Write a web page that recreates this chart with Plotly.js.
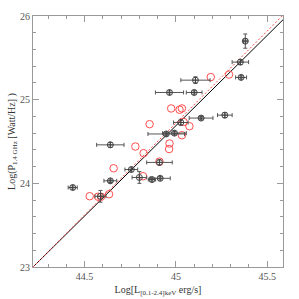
<!DOCTYPE html>
<html><head><meta charset="utf-8">
<script src="https://cdn.plot.ly/plotly-3.0.1.min.js"></script>
<style>html,body{margin:0;padding:0;background:#fff}</style>
</head><body><div id="c" style="width:299px;height:299px"></div>
<script>
// Sources with X-ray / radio error bars
const errX  = [44.435,44.587,44.641,44.641,44.756,44.800,44.869,44.914,44.910,44.947,44.992,45.027,45.138,44.965,45.100,45.107,45.268,45.357,45.353,45.380];
const errY  = [23.95, 23.845,24.03, 24.46, 24.165,24.07, 24.045,24.06, 24.25, 24.59, 24.60, 24.727,24.78, 25.086,25.086,25.233,24.815,25.266,25.449,25.70];
const errDX = [0.025, 0.03,  0.035, 0.075, 0.035, 0.04,  0.02,  0.055, 0.07,  0.10,  0.065, 0.04,  0.065, 0.077, 0.043, 0.08,  0.04,  0.03,  0.045, 0.01];
const errDY = [0.02,  0.07,  0.02,  0.03,  0.02,  0.07,  0.02,  0.02,  0.03,  0.02,  0.02,  0.03,  0.02,  0.02,  0.02,  0.04,  0.03,  0.02,  0.03,  0.085];
// Sources without error bars (red open circles)
const redX = [44.528,44.574,44.590,44.634,44.659,44.778,44.823,44.820,44.856,44.910,44.963,44.965,44.974,45.020,45.033,45.033,45.042,45.074,45.191,45.291];
const redY = [23.846,23.84, 23.84, 23.87, 24.18, 24.44, 24.36, 24.085,24.707,24.26, 24.41, 24.476,24.895,24.88, 24.895,24.575,24.734,24.683,25.27, 25.30];
// Fitted relations
const fitX = [44.2175, 45.5865];
const fitBlackY = [23.0, 25.955];
const fitRedY = [23.0, 26.01];
const xTicks = [44.5, 45, 45.5];
const xTickText = ["44.5", "45", "45.5"];
const yTicks = [23, 24, 25, 26];
const yTickText = ["23", "24", "25", "26"];

const serif = "Liberation Serif, DejaVu Serif, serif";
const traces = [
  {x: fitX, y: fitBlackY, mode: 'lines', line: {color: '#000', width: 1}, hoverinfo: 'skip'},
  {x: fitX, y: fitRedY, mode: 'lines', line: {color: '#ff4444', width: 1, dash: '2px,2px'}, hoverinfo: 'skip'},
  {x: redX, y: redY, mode: 'markers', marker: {symbol: 'circle-open', size: 7.5, color: '#ff4d4d', line: {width: 1}}},
  {x: errX, y: errY, mode: 'markers',
   marker: {symbol: 'circle-cross-open', size: 6, color: '#444', line: {width: 1}},
   error_x: {type: 'data', array: errDX, visible: true, color: '#555', thickness: 1, width: 2},
   error_y: {type: 'data', array: errDY, visible: true, color: '#555', thickness: 1, width: 2}}
];
const axBase = {
  showgrid: false, zeroline: false, showline: true, linecolor: '#999', linewidth: 1,
  mirror: 'allticks', ticks: 'inside', ticklen: 6, tickcolor: '#999', tickwidth: 1,
  tickfont: {family: serif, size: 10, color: '#555'}
};
const layout = {
  width: 299, height: 299, showlegend: false,
  margin: {l: 33, r: 16, t: 16, b: 32},
  paper_bgcolor: '#fff', plot_bgcolor: '#fff',
  xaxis: Object.assign({}, axBase, {
    range: [44.2175, 45.5865], tickvals: xTicks, ticktext: xTickText,
    minor: {ticks: 'inside', dtick: 0.1, tick0: 44.5, ticklen: 3, tickcolor: '#999'},
    title: {text: 'Log[L<sub>[0.1-2.4]keV</sub> erg/s]', font: {family: serif, size: 10, color: '#333'}, standoff: 4}
  }),
  yaxis: Object.assign({}, axBase, {
    range: [23, 26], tickvals: yTicks, ticktext: yTickText,
    minor: {ticks: 'inside', dtick: 0.2, tick0: 23, ticklen: 3, tickcolor: '#999'},
    title: {text: 'Log(P<sub>1.4 GHz</sub> [Watt/Hz] )', font: {family: serif, size: 10, color: '#333'}, standoff: 2}
  })
};
Plotly.newPlot('c', traces, layout, {staticPlot: true, displayModeBar: false});
</script></body></html>
